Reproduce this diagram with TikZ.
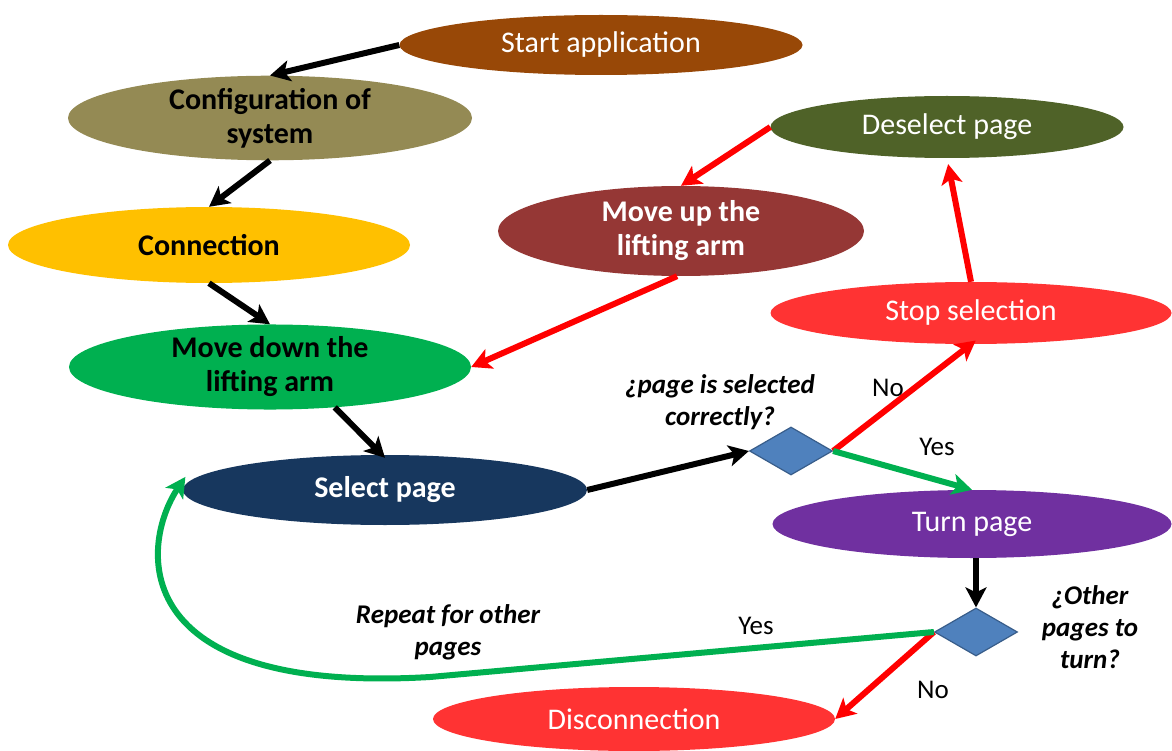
\documentclass[tikz,border=0pt]{standalone}
\usepackage{fontspec}
\setmainfont{Carlito}
\usetikzlibrary{shapes.geometric,arrows.meta}

\definecolor{cBrown}{HTML}{984807}
\definecolor{cOlive}{HTML}{948A54}
\definecolor{cYellow}{HTML}{FFC000}
\definecolor{cGreen}{HTML}{00B050}
\definecolor{cNavy}{HTML}{17375E}
\definecolor{cMoss}{HTML}{4F6228}
\definecolor{cWine}{HTML}{953735}
\definecolor{cRed}{HTML}{FF3333}
\definecolor{cPurple}{HTML}{7030A0}
\definecolor{cDiam}{HTML}{4F81BD}
\definecolor{cDiamLine}{HTML}{385D8A}
\definecolor{aRed}{HTML}{FF0000}
\definecolor{aGreen}{HTML}{00B050}

\begin{document}
\begin{tikzpicture}[x=1pt,y=-1pt,
  every node/.style={font=\fontsize{30}{34}\selectfont},
  oval/.style={ellipse, inner sep=0pt, align=center, draw=none},
  ask/.style={diamond, fill=cDiam, draw=cDiamLine, line width=1.2pt,
              inner sep=0pt, minimum width=83pt, minimum height=48pt},
  note/.style={align=center, font=\fontsize{27}{32}\selectfont\bfseries\itshape},
  tag/.style={font=\fontsize{27}{30}\selectfont},
  flow/.style={line width=6pt, -{Stealth[length=20pt,width=21pt,inset=5pt]}},
  blackflow/.style={flow, draw=black},
  redflow/.style={flow, draw=aRed},
  greenflow/.style={flow, draw=aGreen}]

\useasboundingbox (0,0) rectangle (1172,751);

% process steps
\node[oval, fill=cBrown, text=white, minimum width=403pt, minimum height=60pt]
  (start) at (601,45) {Start application};
\node[oval, fill=cOlive, text=black, font=\fontsize{30}{34}\selectfont\bfseries,
  minimum width=404pt, minimum height=74pt]
  (cfg) at (270,118) {Configuration of\\system};
\node[oval, fill=cYellow, text=black, font=\fontsize{30}{34}\selectfont\bfseries,
  minimum width=402pt, minimum height=76pt]
  (conn) at (209,245) {Connection};
\node[oval, fill=cGreen, text=black, font=\fontsize{30}{34}\selectfont\bfseries,
  minimum width=402pt, minimum height=76pt]
  (down) at (270,367) {Move down the\\lifting arm};
\node[oval, fill=cNavy, text=white, font=\fontsize{30}{34}\selectfont\bfseries,
  minimum width=404pt, minimum height=70pt]
  (sel) at (385,490) {Select page};
\node[oval, fill=cMoss, text=white, minimum width=353pt, minimum height=62pt]
  (desel) at (947,127) {Deselect page};
\node[oval, fill=cWine, text=white, font=\fontsize{30}{34}\selectfont\bfseries,
  minimum width=366pt, minimum height=90pt]
  (mup) at (681,231) {Move up the\\lifting arm};
\node[oval, fill=cRed, text=white, minimum width=401pt, minimum height=62pt]
  (stop) at (971,313) {Stop selection};
\node[oval, fill=cPurple, text=white, minimum width=399pt, minimum height=68pt]
  (turn) at (972,524) {Turn page};
\node[oval, fill=cRed, text=white, minimum width=402pt, minimum height=64pt]
  (disc) at (634,719) {Disconnection};

% decisions
\node[ask] (d1) at (791,451) {};
\node[ask] (d2) at (976,632) {};

% decision texts
\node[note] (q1) at (720,402) {¿page is selected\\correctly?};
\node[note] (q2) at (1090,627) {¿Other\\pages to\\turn?};
\node[note] (rep) at (448,632) {Repeat for other\\pages};
\node[tag] (no1) at (888,388) {No};
\node[tag] (yes1) at (937,447) {Yes};
\node[tag] (yes2) at (756,626) {Yes};
\node[tag] (no2) at (933,690) {No};

% main sequence
\draw[blackflow] (start.west) -- (cfg.north);
\draw[blackflow] (cfg.south) -- (conn.north);
\draw[blackflow] (conn.south) -- (down.north);
\draw[blackflow] (down.-32) -- ([yshift=-3pt]sel.north);
\draw[blackflow] (sel.east) -- (d1.west);

% first decision
\draw[redflow, shorten >=-6pt] (d1.east) -- (stop.south);
\draw[greenflow] (d1.east) -- (turn.north);

% deselect loop
\draw[redflow, shorten >=6pt] (stop.north) -- (desel.south);
\draw[redflow] (desel.west) -- (mup.north);
\draw[redflow] (mup.-95) -- (down.east);

% second decision
\draw[blackflow] (turn.south -| d2.north) -- (d2.north);
\draw[redflow] (d2.west) -- (disc.east);
\coordinate (bend) at (430,677);
\draw[greenflow] (d2.west) -- (bend)
  .. controls (125,695) and (140,545) .. ([xshift=-12pt]sel.176);

\end{tikzpicture}
\end{document}
